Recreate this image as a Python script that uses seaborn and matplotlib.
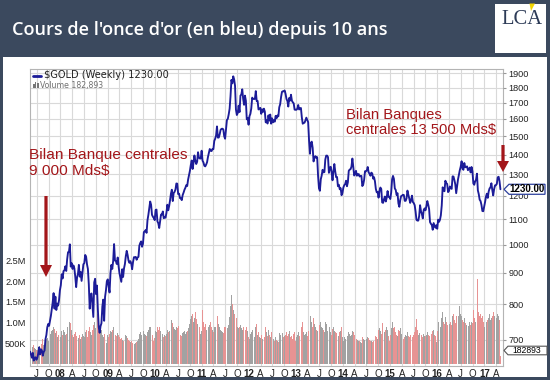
import numpy as np
import pandas as pd
import matplotlib
matplotlib.use("Agg")
import matplotlib.pyplot as plt
import matplotlib.dates as mdates
import matplotlib.transforms as mtransforms
from matplotlib.patches import Rectangle, Polygon
from matplotlib.lines import Line2D
import seaborn as sns

# ---------------- data (weekly closes, $/oz) ----------------
week_starts = ["2007-05-11", "2008-01-04", "2009-01-02", "2010-01-01", "2011-01-07",
               "2012-01-06", "2013-01-04", "2014-01-03", "2015-01-02", "2016-01-01", "2017-01-06"]

gold_2007 = [670, 662, 655, 667, 648, 655, 656, 650, 655, 666, 681, 663, 676, 673, 660, 669, 673,
             702, 713, 734, 743, 738, 752, 766, 786, 806, 834, 787, 823, 783, 802, 796, 812, 843]
gold_2008 = [859, 895, 881, 906, 908, 922, 906, 946, 972, 973, 1001, 921, 933, 913, 925, 915, 887,
             853, 884, 897, 927, 887, 903, 873, 902, 929, 933, 962, 956, 929, 913, 862, 787, 828,
             833, 799, 763, 868, 880, 831, 858, 786, 735, 719, 737, 745, 793, 814, 752, 822, 843, 872]
gold_2009 = [878, 855, 836, 899, 927, 913, 941, 1002, 942, 940, 930, 953, 922, 898, 884, 870, 912,
             886, 915, 930, 958, 977, 962, 942, 934, 940, 932, 912, 937, 954, 954, 955, 945, 953,
             955, 996, 1006, 1012, 992, 1003, 1048, 1051, 1056, 1045, 1095, 1118, 1145, 1175, 1161,
             1118, 1110, 1105]
gold_2010 = [1096, 1138, 1140, 1091, 1083, 1064, 1091, 1119, 1119, 1132, 1104, 1107, 1106, 1126,
             1161, 1137, 1155, 1180, 1210, 1228, 1177, 1213, 1218, 1229, 1257, 1256, 1208, 1210,
             1190, 1189, 1181, 1204, 1215, 1228, 1237, 1249, 1245, 1275, 1297, 1318, 1347, 1370,
             1327, 1358, 1396, 1369, 1352, 1363, 1413, 1385, 1380, 1380, 1421]
gold_2011 = [1369, 1360, 1343, 1340, 1349, 1361, 1388, 1410, 1430, 1421, 1419, 1430, 1429, 1474,
             1486, 1504, 1556, 1492, 1493, 1511, 1536, 1542, 1543, 1539, 1500, 1486, 1542, 1594,
             1601, 1628, 1663, 1742, 1852, 1828, 1877, 1856, 1812, 1657, 1624, 1636, 1682, 1642,
             1746, 1754, 1788, 1725, 1687, 1746, 1713, 1598, 1606, 1566]
gold_2012 = [1617, 1631, 1665, 1733, 1725, 1724, 1725, 1776, 1711, 1712, 1658, 1663, 1668, 1631,
             1659, 1643, 1663, 1645, 1580, 1592, 1573, 1622, 1590, 1627, 1572, 1604, 1580, 1593,
             1584, 1619, 1604, 1621, 1616, 1672, 1691, 1737, 1771, 1775, 1774, 1780, 1757, 1724,
             1712, 1676, 1731, 1714, 1752, 1713, 1703, 1696, 1657, 1656]
gold_2013 = [1656, 1662, 1686, 1658, 1666, 1667, 1609, 1572, 1576, 1578, 1592, 1608, 1595, 1581,
             1476, 1405, 1462, 1470, 1436, 1365, 1386, 1392, 1383, 1387, 1292, 1234, 1223, 1277,
             1295, 1323, 1310, 1312, 1375, 1395, 1395, 1387, 1308, 1333, 1338, 1310, 1272, 1315,
             1352, 1315, 1287, 1288, 1244, 1251, 1230, 1235, 1203, 1213]
gold_2014 = [1238, 1249, 1254, 1270, 1244, 1263, 1318, 1324, 1326, 1339, 1380, 1335, 1295, 1303,
             1318, 1294, 1301, 1302, 1290, 1293, 1293, 1245, 1252, 1274, 1316, 1316, 1320, 1337,
             1310, 1304, 1294, 1309, 1305, 1280, 1287, 1267, 1231, 1216, 1218, 1192, 1222, 1238,
             1231, 1171, 1169, 1185, 1197, 1175, 1191, 1222, 1196, 1195]
gold_2015 = [1186, 1216, 1277, 1293, 1279, 1234, 1227, 1204, 1212, 1167, 1152, 1181, 1199, 1201,
             1205, 1204, 1178, 1178, 1189, 1224, 1205, 1189, 1169, 1180, 1201, 1173, 1168, 1159,
             1132, 1097, 1094, 1094, 1113, 1159, 1133, 1121, 1103, 1138, 1145, 1137, 1155, 1177,
             1162, 1142, 1088, 1081, 1076, 1057, 1084, 1075, 1065, 1075]
gold_2016 = [1061, 1098, 1089, 1097, 1116, 1158, 1239, 1227, 1221, 1270, 1259, 1255, 1217, 1222,
             1243, 1235, 1232, 1291, 1290, 1273, 1253, 1212, 1243, 1276, 1298, 1321, 1339, 1366,
             1328, 1323, 1357, 1336, 1336, 1340, 1321, 1327, 1334, 1310, 1337, 1316, 1257, 1251,
             1267, 1275, 1304, 1225, 1208, 1183, 1177, 1160, 1134, 1133, 1152]
gold_2017 = [1173, 1197, 1210, 1191, 1220, 1234, 1239, 1258, 1226, 1202, 1230, 1248, 1249, 1255,
             1286, 1289, 1268, 1230]

# weekly volume (thousands)
vol_2007 = [420, 380, 350, 400, 450, 380, 360, 330, 340, 400, 430, 380, 520, 480, 600, 450, 380,
            460, 600, 620, 560, 700, 650, 720, 780, 820, 900, 850, 750, 800, 640, 700, 620, 560]
vol_2008 = [650, 780, 700, 820, 760, 690, 720, 880, 950, 870, 1000, 980, 820, 700, 650, 720, 760,
            680, 640, 700, 620, 690, 600, 650, 720, 680, 640, 760, 820, 700, 650, 780, 900, 760,
            700, 820, 940, 1020, 860, 900, 1100, 1200, 950, 880, 760, 820, 700, 640, 720, 680, 560, 500]
vol_2009 = [700, 650, 720, 800, 760, 820, 880, 900, 760, 700, 680, 740, 700, 650, 600, 620, 580,
            560, 600, 640, 700, 660, 620, 580, 560, 520, 540, 500, 560, 520, 480, 500, 520, 540,
            600, 720, 760, 700, 640, 680, 780, 720, 700, 680, 760, 820, 880, 900, 960, 860, 700, 560]
vol_2010 = [620, 800, 760, 880, 820, 900, 780, 700, 680, 720, 640, 700, 660, 720, 820, 760, 800,
            900, 1120, 1050, 980, 900, 840, 820, 880, 860, 920, 780, 720, 700, 680, 740, 760, 800,
            720, 760, 800, 860, 900, 960, 1080, 1150, 1200, 1020, 1100, 1250, 1080, 960, 1020,
            1180, 900, 720, 800]
vol_2011 = [1300, 1000, 900, 960, 820, 780, 860, 900, 940, 1000, 880, 820, 760, 900, 880, 960,
            1300, 1150, 960, 880, 820, 800, 760, 740, 900, 880, 820, 900, 860, 940, 1120, 1400,
            1650, 1450, 1300, 1200, 1050, 1250, 1100, 900, 860, 880, 940, 860, 820, 900, 800, 760,
            820, 900, 780, 640]
vol_2012 = [600, 720, 760, 820, 700, 680, 640, 900, 950, 700, 760, 640, 620, 700, 600, 580, 560,
            640, 880, 760, 680, 820, 700, 640, 760, 620, 560, 600, 540, 640, 580, 560, 520, 740,
            700, 860, 820, 740, 640, 660, 700, 760, 680, 720, 800, 640, 700, 680, 600, 720, 760, 560]
vol_2013 = [640, 700, 760, 680, 720, 640, 900, 1000, 760, 700, 720, 760, 680, 800, 1450, 1720,
            1150, 1000, 900, 1100, 960, 880, 820, 780, 1100, 1200, 940, 1000, 900, 860, 820, 760,
            1000, 960, 780, 740, 900, 880, 760, 700, 840, 880, 800, 760, 740, 700, 820, 680, 760,
            800, 880, 640]
vol_2014 = [560, 640, 600, 620, 700, 660, 760, 720, 680, 700, 780, 760, 700, 640, 620, 600, 580,
            560, 540, 520, 500, 640, 600, 580, 680, 620, 600, 640, 620, 580, 560, 540, 520, 560,
            500, 600, 680, 640, 600, 820, 860, 780, 720, 980, 1000, 880, 760, 820, 900, 820, 680, 560]
vol_2015 = [700, 860, 1000, 980, 860, 900, 760, 700, 680, 820, 780, 860, 720, 660, 620, 600, 640,
            700, 660, 760, 680, 640, 700, 620, 680, 640, 700, 760, 900, 1080, 820, 700, 740, 880,
            760, 700, 640, 720, 680, 660, 700, 760, 700, 680, 860, 760, 720, 800, 820, 700, 680, 520]
vol_2016 = [800, 1000, 920, 960, 900, 1100, 1250, 1020, 960, 1120, 1000, 940, 860, 900, 960,
            1000, 940, 1150, 1200, 1050, 980, 1150, 1100, 1050, 1150, 1400, 1200, 1150, 1050,
            1000, 1100, 980, 940, 900, 880, 920, 1000, 940, 1000, 980, 1300, 1100, 1000, 960, 1150,
            2050, 1250, 1150, 1200, 1100, 1150, 1000, 900]
vol_2017 = [1150, 1100, 1000, 1050, 1100, 1200, 1050, 1100, 1150, 1250, 1150, 1100, 1050, 1100,
            1200, 1150, 1050, 182.893]

gold_years = [gold_2007, gold_2008, gold_2009, gold_2010, gold_2011, gold_2012, gold_2013,
              gold_2014, gold_2015, gold_2016, gold_2017]
vol_years = [vol_2007, vol_2008, vol_2009, vol_2010, vol_2011, vol_2012, vol_2013,
             vol_2014, vol_2015, vol_2016, vol_2017]

price_ticks = [700, 800, 900, 1000, 1100, 1200, 1300, 1400, 1500, 1600, 1700, 1800, 1900]
vol_ticks = [500, 1000, 1500, 2000, 2500]
vol_tick_labels = ["500K", "1.0M", "1.5M", "2.0M", "2.5M"]
x_tick_labels = ["J", "O", "08", "A", "J", "O", "09", "A", "J", "O", "10", "A", "J", "O",
                 "11", "A", "J", "O", "12", "A", "J", "O", "13", "A", "J", "O", "14", "A",
                 "J", "O", "15", "A", "J", "O", "16", "A", "J", "O", "17", "A"]

title = "Cours de l'once d'or (en bleu) depuis 10 ans"
note1 = ["Bilan Banque centrales", r"9 000 Mds\$"]
note2 = ["Bilan Banques", r"centrales 13 500 Mds\$"]

# ---------------- build frame ----------------
frames = []
for start, g, v in zip(week_starts, gold_years, vol_years):
    assert len(g) == len(v), (start, len(g), len(v))
    d = pd.date_range(start, periods=len(g), freq="7D")
    frames.append(pd.DataFrame({"date": d, "price": g, "volume": v}))
df = pd.concat(frames, ignore_index=True)
down = df["price"].diff().fillna(0) < 0

BG = "#3b495e"
NAVY = "#1c1c98"
RED = "#a3161a"
GRID = "#d9d9d9"
PINK = "#e79393"
GREY = "#a2a2a2"

sns.set_style("white")
plt.rcParams["font.family"] = ["Liberation Sans", "DejaVu Sans"]

W, H = 550, 380
fig = plt.figure(figsize=(W / 100, H / 100), dpi=100)
fig.patch.set_facecolor(BG)


def fx(x):
    return x / W


def fy(y):
    return 1 - y / H


renderer = fig.canvas.get_renderer()


def fit(txt, width_px):
    w = txt.get_window_extent(renderer).width
    txt.set_fontsize(txt.get_fontsize() * width_px / w)


# white panel
fig.add_artist(Rectangle((fx(3), fy(377)), 544 / W, 320 / H, transform=fig.transFigure,
                         fc="white", ec="none", zorder=-1))

# title
t = fig.text(fx(12.5), fy(35), title, color="white", fontsize=13, family=["Open Sans", "DejaVu Sans"],
             fontweight="semibold", va="baseline", ha="left")
fit(t, 376)

# logo
fig.add_artist(Rectangle((fx(495), fy(53)), 51 / W, 49 / H, transform=fig.transFigure,
                         fc="white", ec="none"))
lt = fig.text(fx(501), fy(24), "LCA", color="#2d3b57", fontsize=15,
              family=["Liberation Serif", "DejaVu Serif"], va="baseline", ha="left")
fit(lt, 41)
fig.add_artist(Polygon([(fx(529.5), fy(3.5)), (fx(535), fy(3.5)), (fx(531), fy(11))],
                       closed=True, transform=fig.transFigure, fc="#f2d400", ec="none"))

# axes
ax_vol = fig.add_axes([fx(30), fy(366), 473 / W, 297 / H])
ax_vol.set_facecolor("white")
ax_vol.bar(df["date"], df["volume"], width=6.3, color=np.where(down, PINK, GREY),
           linewidth=0, zorder=2)
ax_vol.set_ylim(-55, 7126)
ax_vol.set_yticks(vol_ticks)
ax_vol.set_yticklabels(vol_tick_labels)
quarters = pd.date_range("2007-07-01", "2017-04-01", freq="QS")
ax_vol.set_xticks(quarters)
ax_vol.set_xticklabels(x_tick_labels)
ax_vol.grid(axis="x", color=GRID, lw=0.8)
ax_vol.set_axisbelow(True)
ax_vol.tick_params(axis="y", length=0, labelsize=6.6, labelcolor="#222222", pad=3)
ax_vol.tick_params(axis="x", length=0, labelsize=7, labelcolor="#222222", pad=2.5)
for lbl in ax_vol.get_xticklabels():
    if lbl.get_text().isdigit():
        lbl.set_fontweight("bold")
for s in ax_vol.spines.values():
    s.set_color("#b4b4b4")
    s.set_linewidth(0.8)

ax_price = ax_vol.twinx()
sns.lineplot(data=df, x="date", y="price", ax=ax_price, color=NAVY, linewidth=1.35)
ax_price.set_yscale("log")
ax_price.set_ylim(635, 1929)
ax_price.set_yticks(price_ticks)
ax_price.set_yticklabels([str(p) for p in price_ticks])
ax_price.minorticks_off()
ax_price.set_xlabel("")
ax_price.set_ylabel("")
ax_price.tick_params(axis="y", length=2, color="#999999", labelsize=6.6,
                     labelcolor="#222222", pad=2)
for s in ax_price.spines.values():
    s.set_visible(False)
ax_vol.set_xlim(pd.Timestamp("2007-05-10"), pd.Timestamp("2017-05-25"))
ax_vol.set_xlabel("")

# horizontal grid (price levels) drawn behind the bars
blend = mtransforms.blended_transform_factory(ax_vol.transAxes, ax_price.transData)
for p in price_ticks:
    ax_vol.add_line(Line2D([0, 1], [p, p], transform=blend, color=GRID, lw=0.8, zorder=0.5))

# in-chart legend
fig.add_artist(Line2D([fx(33), fx(41)], [fy(75.5), fy(75.5)], transform=fig.transFigure,
                      color=NAVY, lw=2))
g1 = fig.text(fx(44), fy(75.5), r"\$GOLD (Weekly) 1230.00", color="#222222", fontsize=6.5,
              family=["DejaVu Sans"], va="center", ha="left")
fit(g1, 125)
for bx, bh in [(33, 4), (35, 6), (37, 5)]:
    fig.add_artist(Rectangle((fx(bx), fy(88)), 1.5 / W, bh / H, transform=fig.transFigure,
                             fc="#777777", ec="none"))
g2 = fig.text(fx(40), fy(85.5), "Volume 182,893", color="#707070", fontsize=6.2,
              family=["DejaVu Sans"], va="center", ha="left")
fit(g2, 63)

# annotations
a1 = fig.text(fx(29), fy(159), note1[0], color=RED, fontsize=11, va="baseline", ha="left")
fit(a1, 158)
fig.text(fx(29), fy(175), note1[1], color=RED, fontsize=a1.get_fontsize(), va="baseline", ha="left")
b2 = fig.text(fx(346), fy(134), note2[1], color=RED, fontsize=11, va="baseline", ha="left")
fit(b2, 149)
fig.text(fx(346), fy(119), note2[0], color=RED, fontsize=b2.get_fontsize(), va="baseline", ha="left")


def down_arrow(x, y0, y1, shaft=3.2, head_w=12, head_l=12):
    pts = [(x - shaft / 2, y0), (x + shaft / 2, y0), (x + shaft / 2, y1 - head_l),
           (x + head_w / 2, y1 - head_l), (x, y1), (x - head_w / 2, y1 - head_l),
           (x - shaft / 2, y1 - head_l)]
    fig.add_artist(Polygon([(fx(a), fy(b)) for a, b in pts], closed=True,
                           transform=fig.transFigure, fc=RED, ec="none", zorder=5))


down_arrow(46, 196, 277)
down_arrow(503, 145, 172, head_l=11)

# last-value boxes on the right
last = df.iloc[-1]
ydisp = ax_price.transData.transform((mdates.date2num(last["date"]), last["price"]))[1]
yb = H - ydisp
pts = [(504, yb), (509, yb - 5), (545, yb - 5), (545, yb + 5), (509, yb + 5)]
fig.add_artist(Polygon([(fx(a), fy(b)) for a, b in pts], closed=True, transform=fig.transFigure,
                       fc="white", ec="#2b3f9c", lw=0.9, zorder=6))
fig.text(fx(527), fy(yb), f"{last['price']:.2f}", color="black", fontsize=7, fontweight="bold",
         ha="center", va="center", zorder=7)
yv = 350.5
pts = [(504, yv), (508, yv - 4.3), (547, yv - 4.3), (547, yv + 4.3), (508, yv + 4.3)]
fig.add_artist(Polygon([(fx(a), fy(b)) for a, b in pts], closed=True, transform=fig.transFigure,
                       fc="white", ec="#555555", lw=0.8, zorder=6))
fig.text(fx(527), fy(yv), f"{last['volume'] * 1000:.0f}", color="black", fontsize=6.2,
         ha="center", va="center", zorder=7)

fig.savefig("out.png", dpi=100, facecolor=BG)
